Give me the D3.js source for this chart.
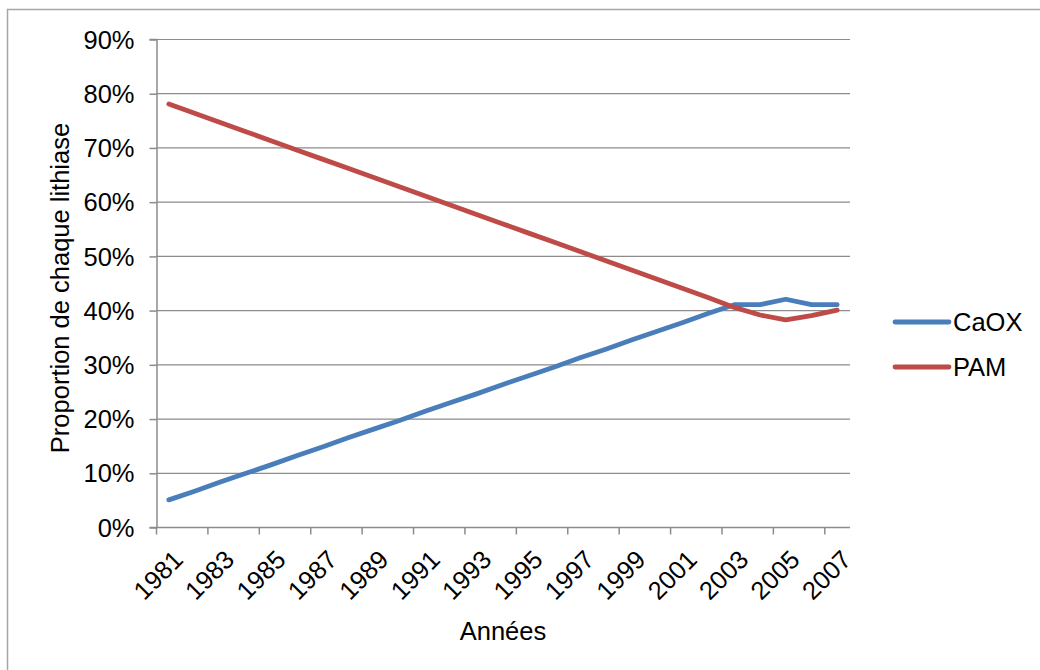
<!DOCTYPE html>
<html>
<head>
<meta charset="utf-8">
<script src="https://cdn.jsdelivr.net/npm/d3@7"></script>
<style>
  html, body { margin: 0; padding: 0; background: #fff; }
  svg { display: block; font-family: "Liberation Sans", Arial, sans-serif; }
</style>
</head>
<body>
<svg id="chart" width="1040" height="670"></svg>
<script>
// Years shown on the category axis
const years = ["1981","1982","1983","1984","1985","1986","1987","1988","1989","1990",
  "1991","1992","1993","1994","1995","1996","1997","1998","1999","2000",
  "2001","2002","2003","2004","2005","2006","2007"];

// Share of each stone type (%)
const caox = [5, 6.6, 8.3, 9.9, 11.5, 13.2, 14.8, 16.5, 18.1, 19.7,
  21.4, 23, 24.6, 26.3, 27.9, 29.5, 31.2, 32.8, 34.5, 36.1,
  37.7, 39.4, 41, 41, 42, 41, 41];
const pam = [78, 76.3, 74.6, 72.9, 71.2, 69.5, 67.8, 66.1, 64.4, 62.7,
  61, 59.3, 57.6, 55.9, 54.2, 52.5, 50.8, 49.1, 47.4, 45.7,
  44, 42.3, 40.5, 39.1, 38.2, 39, 40];

const yTicks = [0, 10, 20, 30, 40, 50, 60, 70, 80, 90];

const series = [
  { name: "CaOX", values: caox, color: "#4a7ebb" },
  { name: "PAM", values: pam, color: "#be4b48" }
];

const svg = d3.select("#chart");
const plotLeft = 156, plotRight = 850, plotTop = 39, plotBottom = 527;
const fontSize = 25.5;

// outer frame
svg.append("rect")
  .attr("x", 7.5).attr("y", 9.5)
  .attr("width", 1040).attr("height", 670)
  .attr("fill", "none").attr("stroke", "#a6a6a6").attr("stroke-width", 1.5);

const x = d3.scaleBand().domain(years).range([plotLeft, plotRight]).paddingInner(0).paddingOuter(0);
const y = d3.scaleLinear().domain([0, 90]).range([plotBottom, plotTop]);

// horizontal gridlines
svg.append("g")
  .selectAll("line")
  .data(yTicks.filter(d => d > 0))
  .join("line")
  .attr("x1", plotLeft).attr("x2", plotRight)
  .attr("y1", d => y(d) + 0.5).attr("y2", d => y(d) + 0.5)
  .attr("stroke", "#8c8c8c").attr("stroke-width", 1.2);

// y axis
const yAxis = svg.append("g")
  .attr("transform", `translate(${plotLeft + 0.5},0)`)
  .call(d3.axisLeft(y).tickValues(yTicks).tickSize(7).tickPadding(15).tickFormat(d => d + "%"));
yAxis.select(".domain").attr("stroke", "#8c8c8c").attr("stroke-width", 1.5);
yAxis.selectAll(".tick line").attr("stroke", "#8c8c8c").attr("stroke-width", 1.5)
  .attr("transform", "translate(0,0.5)");
yAxis.selectAll(".tick text")
  .attr("font-size", fontSize).attr("font-family", "Liberation Sans, Arial, sans-serif")
  .attr("fill", "#000").attr("dy", "0.36em");

// x axis: ticks at every other category boundary
const xAxisG = svg.append("g").attr("transform", `translate(0,${plotBottom + 0.5})`);
xAxisG.append("line")
  .attr("x1", plotLeft).attr("x2", plotRight)
  .attr("stroke", "#8c8c8c").attr("stroke-width", 1.5);
const boundaryYears = years.filter((d, i) => i % 2 === 0);
xAxisG.selectAll("line.tick")
  .data(boundaryYears)
  .join("line")
  .attr("class", "tick")
  .attr("x1", d => x(d) + 0.5).attr("x2", d => x(d) + 0.5)
  .attr("y1", 0).attr("y2", 7)
  .attr("stroke", "#8c8c8c").attr("stroke-width", 1.5);
xAxisG.selectAll("text")
  .data(boundaryYears)
  .join("text")
  .attr("transform", d => `translate(${x(d) + x.bandwidth() / 2 + 3},${21}) rotate(-45)`)
  .attr("text-anchor", "end")
  .attr("dy", "0.7em")
  .attr("font-size", fontSize)
  .attr("fill", "#000")
  .text(d => d);

// lines
const line = d3.line()
  .x((d, i) => x(years[i]) + x.bandwidth() / 2)
  .y(d => y(d));

svg.append("g")
  .selectAll("path")
  .data(series)
  .join("path")
  .attr("d", d => line(d.values))
  .attr("fill", "none")
  .attr("stroke", d => d.color)
  .attr("stroke-width", 4.8)
  .attr("stroke-linecap", "round")
  .attr("stroke-linejoin", "round");

// axis titles
svg.append("text")
  .attr("transform", "translate(69,288) rotate(-90)")
  .attr("text-anchor", "middle")
  .attr("font-size", fontSize)
  .attr("fill", "#000")
  .text("Proportion de chaque lithiase");

svg.append("text")
  .attr("x", 503).attr("y", 640)
  .attr("text-anchor", "middle")
  .attr("font-size", fontSize)
  .attr("fill", "#000")
  .text("Années");

// legend
const legend = svg.append("g")
  .selectAll("g")
  .data(series)
  .join("g")
  .attr("transform", (d, i) => `translate(895,${322 + i * 45})`);
legend.append("line")
  .attr("x1", 0).attr("x2", 54)
  .attr("stroke", d => d.color)
  .attr("stroke-width", 4.8)
  .attr("stroke-linecap", "round");
legend.append("text")
  .attr("x", 58).attr("dy", "0.36em")
  .attr("font-size", fontSize)
  .attr("fill", "#000")
  .text(d => d.name);
</script>
</body>
</html>
